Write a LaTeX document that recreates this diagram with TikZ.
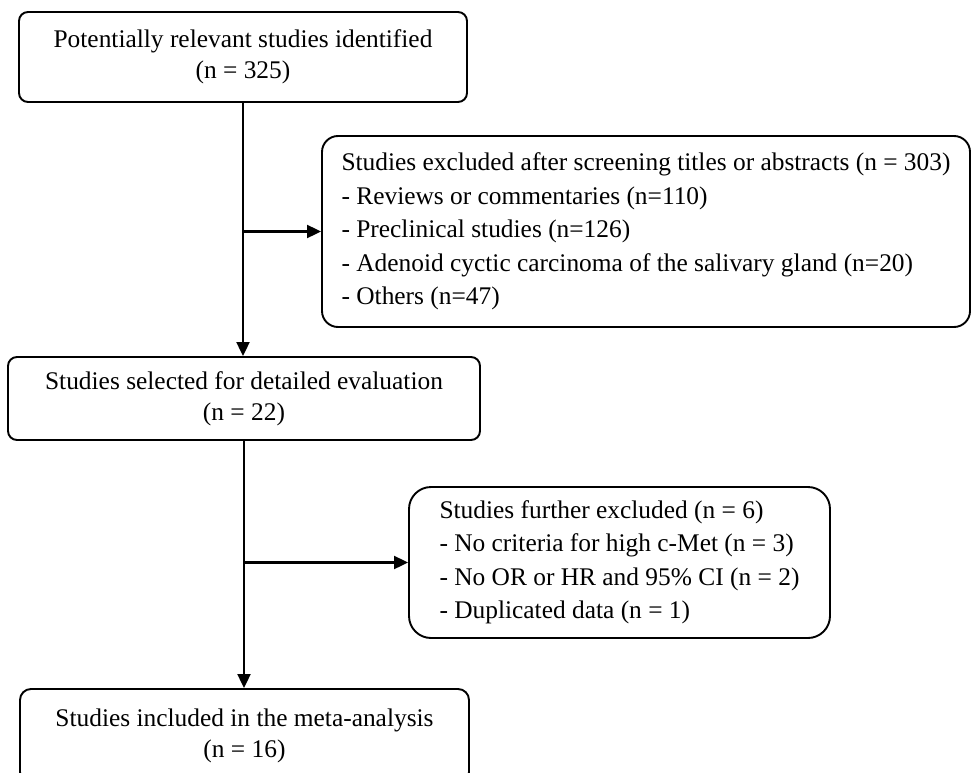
\documentclass[tikz,border=0pt]{standalone}
\usepackage{fontspec}
\setmainfont{Liberation Serif}
\usetikzlibrary{arrows.meta}

\begin{document}
\begin{tikzpicture}[x=1pt,y=-1pt,
		box/.style={draw, line width=1.9pt, rounded corners=9pt, align=center, inner sep=0pt, font=\fontsize{25.4}{31}\selectfont},
		listbox/.style={box, align=left, font=\fontsize{25.4}{33.5}\selectfont},
		arr/.style={line width=2.1pt, -{Triangle[length=14pt,width=13pt]}}]
			\useasboundingbox (0,0) rectangle (971,773);
			\node[box, minimum width=448pt, minimum height=90pt] (ident) at (243,57) {Potentially relevant studies identified\\(n = 325)};
			\node[listbox, rounded corners=16pt, minimum width=648pt, minimum height=191pt] (excl) at (646,231.5) {Studies excluded after screening titles or abstracts (n = 303)\\- Reviews or commentaries (n=110)\\- Preclinical studies (n=126)\\- Adenoid cyctic carcinoma of the salivary gland (n=20)\\- Others (n=47)};
			\node[box, minimum width=472pt, minimum height=83pt] (select) at (244,398.5) {Studies selected for detailed evaluation\\(n = 22)};
			\node[listbox, rounded corners=22pt, minimum width=421pt, minimum height=151pt] (further) at (619.5,562.5) {Studies further excluded (n = 6)\\- No criteria for high c-Met (n = 3)\\- No OR or HR and 95\% CI (n = 2)\\- Duplicated data (n = 1)};
			\node[box, rounded corners=11pt, minimum width=449pt, minimum height=94pt] (incl) at (244.5,736) {Studies included in the meta-analysis\\(n = 16)};
			\draw[arr] (ident.south) -- (ident.south |- select.north);
			\draw[arr] (ident.south |- excl.west) -- (excl.west);
			\draw[arr] (select.south) -- (select.south |- incl.north);
			\draw[arr] (select.south |- further.west) -- (further.west);
		\end{tikzpicture}
\end{document}
